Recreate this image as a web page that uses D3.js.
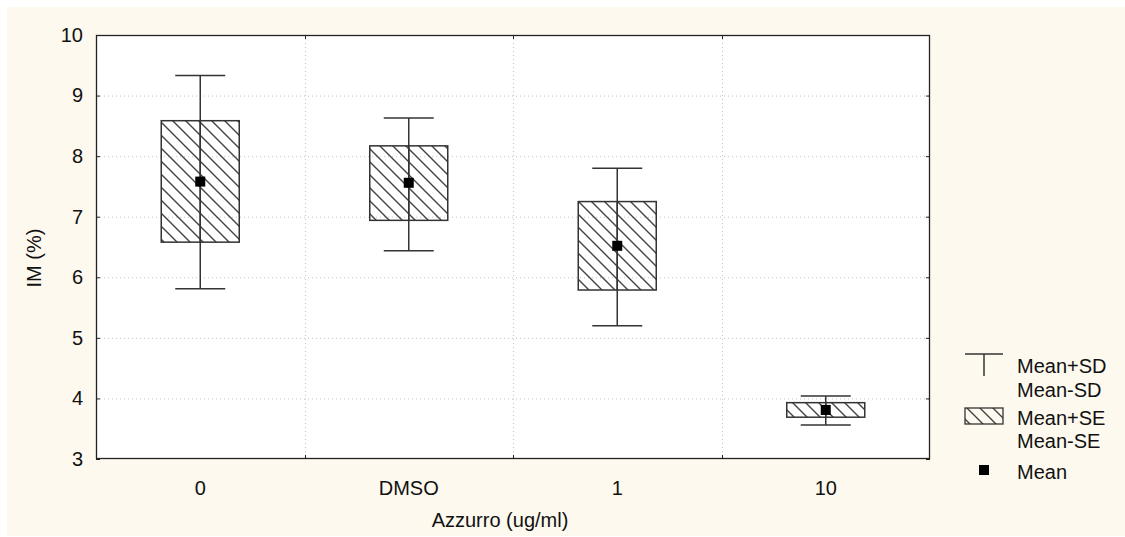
<!DOCTYPE html>
<html>
<head>
<meta charset="utf-8">
<script src="https://cdn.jsdelivr.net/npm/d3@7/dist/d3.min.js"></script>
<style>
  html, body { margin: 0; padding: 0; background: #ffffff; }
  svg { display: block; }
  text { font-family: "Liberation Sans", Arial, sans-serif; fill: #111; }
</style>
</head>
<body>
<svg id="chart" width="1125" height="537"></svg>
<script>
// ---- data ----
const categories = ["0", "DMSO", "1", "10"];
const means   = [7.58, 7.56, 6.52, 3.81];
const seUpper = [8.585, 8.17, 7.25, 3.93];
const seLower = [6.58, 6.94, 5.79, 3.69];
const sdUpper = [9.33, 8.63, 7.80, 4.04];
const sdLower = [5.81, 6.44, 5.20, 3.56];
const yTicks  = [3, 4, 5, 6, 7, 8, 9, 10];
const xTitle  = "Azzurro (ug/ml)";
const yTitle  = "IM (%)";
const legendLabels = [["Mean+SD", "Mean-SD"], ["Mean+SE", "Mean-SE"], ["Mean"]];

// ---- layout ----
const W = 1125, H = 537;
const L = 96, R = 930, T = 35, B = 459;
const boxW = 78, capW = 50, meanSz = 10;
const lineCol = "#333333";

const svg = d3.select("#chart");

// background
svg.append("rect").attr("x", 7).attr("y", 7).attr("width", W - 7).attr("height", H - 8)
  .attr("fill", "#fdf9ee");
svg.append("rect").attr("x", L).attr("y", T).attr("width", R - L).attr("height", B - T)
  .attr("fill", "#ffffff");

// hatch pattern
const defs = svg.append("defs");
const p = defs.append("pattern").attr("id", "hatch").attr("patternUnits", "userSpaceOnUse")
  .attr("width", 13).attr("height", 13);
p.append("path").attr("d", "M0,0 L13,13 M-2,11 L2,15 M11,-2 L15,2")
  .attr("stroke", "#444").attr("stroke-width", 1.4).attr("fill", "none");

const x = d3.scaleBand().domain(categories).range([L, R]);
const y = d3.scaleLinear().domain([3, 10]).range([B, T]);

// gridlines
const grid = svg.append("g");
grid.selectAll("line.h").data(yTicks.filter(t => t > 3 && t < 10)).join("line")
  .attr("x1", L).attr("x2", R).attr("y1", d => y(d) + 0.5).attr("y2", d => y(d) + 0.5)
  .attr("stroke", "#c4c4c4").attr("stroke-width", 1).attr("stroke-dasharray", "1,3");
grid.selectAll("line.v").data(categories.slice(1)).join("line")
  .attr("x1", d => Math.round(x(d)) + 0.5).attr("x2", d => Math.round(x(d)) + 0.5)
  .attr("y1", T).attr("y2", B)
  .attr("stroke", "#c4c4c4").attr("stroke-width", 1).attr("stroke-dasharray", "1,3");

// axes (ticks inward)
const axisLeft = d3.axisLeft(y).tickValues(yTicks).tickSize(-4).tickPadding(13).tickFormat(d3.format("d"));
const axisRight = d3.axisRight(y).tickValues(yTicks).tickSize(-4).tickFormat("");
const bandEdges = categories.slice(1);
const gl = svg.append("g").attr("transform", `translate(${L},0)`).call(axisLeft);
const gr = svg.append("g").attr("transform", `translate(${R},0)`).call(axisRight);
const gb = svg.append("g").attr("transform", `translate(0,${B})`)
  .call(d3.axisBottom(x).tickSize(0).tickPadding(22));
svg.append("g").selectAll("line").data(bandEdges).join("line")
  .attr("x1", d => Math.round(x(d)) + 0.5).attr("x2", d => Math.round(x(d)) + 0.5)
  .attr("y1", B).attr("y2", B - 4).attr("stroke", "#222");
svg.append("g").selectAll("line").data(bandEdges).join("line")
  .attr("x1", d => Math.round(x(d)) + 0.5).attr("x2", d => Math.round(x(d)) + 0.5)
  .attr("y1", T).attr("y2", T + 4).attr("stroke", "#222");
[gl, gr, gb].forEach(g => {
  g.select(".domain").remove();
  g.selectAll(".tick line").attr("stroke", "#222");
  g.selectAll("text").attr("font-size", 20).attr("fill", "#111")
    .attr("font-family", '"Liberation Sans", Arial, sans-serif');
});
// frame
svg.append("rect").attr("x", L + 0.5).attr("y", T + 0.5).attr("width", R - L - 1).attr("height", B - T - 1)
  .attr("fill", "none").attr("stroke", "#222").attr("stroke-width", 1.3);

// titles
svg.append("text").attr("x", 500).attr("y", 527).attr("text-anchor", "middle")
  .attr("font-size", 20).text(xTitle);
svg.append("text").attr("transform", "translate(41,258) rotate(-90)").attr("text-anchor", "middle")
  .attr("font-size", 20).text(yTitle);

// boxes
const idx = d3.range(categories.length);
const cx = i => x(categories[i]) + x.bandwidth() / 2;
const marks = svg.append("g");
marks.selectAll("line.stem").data(idx).join("line")
  .attr("x1", cx).attr("x2", cx).attr("y1", i => y(sdUpper[i])).attr("y2", i => y(sdLower[i]))
  .attr("stroke", lineCol).attr("stroke-width", 1.5);
marks.selectAll("rect.box").data(idx).join("rect")
  .attr("x", i => cx(i) - boxW / 2).attr("width", boxW)
  .attr("y", i => y(seUpper[i])).attr("height", i => y(seLower[i]) - y(seUpper[i]))
  .attr("fill", "url(#hatch)").attr("stroke", lineCol).attr("stroke-width", 1.5);
marks.selectAll("line.stem2").data(idx).join("line")
  .attr("x1", cx).attr("x2", cx).attr("y1", i => y(seUpper[i])).attr("y2", i => y(seLower[i]))
  .attr("stroke", lineCol).attr("stroke-width", 1.5);
[sdUpper, sdLower].forEach(arr => {
  marks.append("g").selectAll("line").data(idx).join("line")
    .attr("x1", i => cx(i) - capW / 2).attr("x2", i => cx(i) + capW / 2)
    .attr("y1", i => y(arr[i])).attr("y2", i => y(arr[i]))
    .attr("stroke", lineCol).attr("stroke-width", 1.5);
});
marks.selectAll("rect.mean").data(idx).join("rect")
  .attr("x", i => cx(i) - meanSz / 2).attr("y", i => y(means[i]) - meanSz / 2)
  .attr("width", meanSz).attr("height", meanSz).attr("fill", "#000");

// legend
const lg = svg.append("g");
const symX = 965, symW = 38, txtX = 1017;
lg.append("line").attr("x1", symX).attr("x2", symX + symW).attr("y1", 354).attr("y2", 354)
  .attr("stroke", lineCol).attr("stroke-width", 1.5);
lg.append("line").attr("x1", symX + symW / 2).attr("x2", symX + symW / 2).attr("y1", 354).attr("y2", 376)
  .attr("stroke", lineCol).attr("stroke-width", 1.5);
lg.append("rect").attr("x", symX).attr("y", 408).attr("width", symW).attr("height", 16)
  .attr("fill", "url(#hatch)").attr("stroke", lineCol).attr("stroke-width", 1.3);
lg.append("rect").attr("x", 979).attr("y", 465).attr("width", 10).attr("height", 10).attr("fill", "#000");
const baselines = [[373, 397], [425, 448], [479]];
legendLabels.forEach((grp, gi) => grp.forEach((t, ti) => {
  lg.append("text").attr("x", txtX).attr("y", baselines[gi][ti]).attr("font-size", 20).text(t);
}));
</script>
</body>
</html>
